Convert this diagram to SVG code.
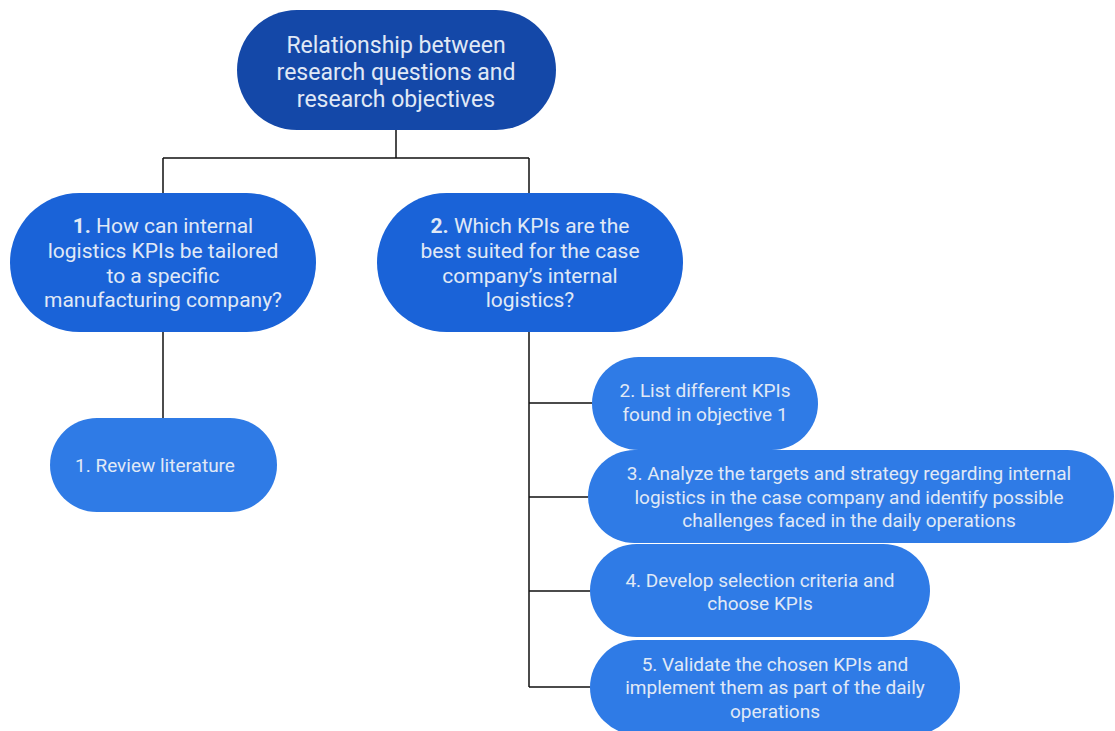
<svg xmlns="http://www.w3.org/2000/svg" width="1115" height="731" viewBox="0 0 1115 731">
<style>
.t{font-family:Roboto,"Liberation Sans",sans-serif;fill:#e0e9f6;text-anchor:middle}
.t1{font-size:23px}
.t2{font-size:21px}
.t3{font-size:19px}
.b{font-weight:bold}
.c{fill:none;stroke:#111;stroke-width:1.5}
</style>
<rect width="1115" height="731" fill="#fff"/>
<g id="connectors">
<path class="c" d="M396 130V158M163 158H529M163 158V193M529 158V193"/>
<path class="c" d="M163 332V418"/>
<path class="c" d="M529 332V687M529 403H592M529 497H588M529 591H590M529 687H590"/>
</g>
<g id="root">
<rect x="237" y="10" width="319" height="120" rx="60" fill="#1448a8"/>
<text class="t t1" x="396" y="53">Relationship between</text>
<text class="t t1" x="396" y="80">research questions and</text>
<text class="t t1" x="396" y="107">research objectives</text>
</g>
<g id="q1">
<rect x="10" y="193" width="306" height="139" rx="69.5" fill="#1a63d8"/>
<text class="t t2" x="163" y="233"><tspan class="b">1.</tspan> How can internal</text>
<text class="t t2" x="163" y="258">logistics KPIs be tailored</text>
<text class="t t2" x="163" y="283">to a specific</text>
<text class="t t2" x="163" y="307">manufacturing company?</text>
</g>
<g id="q2">
<rect x="377" y="193" width="306" height="139" rx="69.5" fill="#1a63d8"/>
<text class="t t2" x="530" y="233"><tspan class="b">2.</tspan> Which KPIs are the</text>
<text class="t t2" x="530" y="258">best suited for the case</text>
<text class="t t2" x="530" y="283">company’s internal</text>
<text class="t t2" x="530" y="307">logistics?</text>
</g>
<g id="o1">
<rect x="50" y="418" width="227" height="94" rx="47" fill="#2f7be6"/>
<text class="t t3" x="155" y="472">1. Review literature</text>
</g>
<g id="o2">
<rect x="592" y="357" width="226" height="93" rx="46.5" fill="#2f7be6"/>
<text class="t t3" x="705" y="397">2. List different KPIs</text>
<text class="t t3" x="705" y="421">found in objective 1</text>
</g>
<g id="o3">
<rect x="588" y="450" width="526" height="93" rx="46.5" fill="#2f7be6"/>
<text class="t t3" x="849" y="480">3. Analyze the targets and strategy regarding internal</text>
<text class="t t3" x="849" y="504">logistics in the case company and identify possible</text>
<text class="t t3" x="849" y="527">challenges faced in the daily operations</text>
</g>
<g id="o4">
<rect x="590" y="544" width="340" height="93" rx="46.5" fill="#2f7be6"/>
<text class="t t3" x="760" y="587">4. Develop selection criteria and</text>
<text class="t t3" x="760" y="610">choose KPIs</text>
</g>
<g id="o5">
<rect x="590" y="640" width="370" height="95" rx="47.5" fill="#2f7be6"/>
<text class="t t3" x="775" y="671">5. Validate the chosen KPIs and</text>
<text class="t t3" x="775" y="694">implement them as part of the daily</text>
<text class="t t3" x="775" y="718">operations</text>
</g>
</svg>
